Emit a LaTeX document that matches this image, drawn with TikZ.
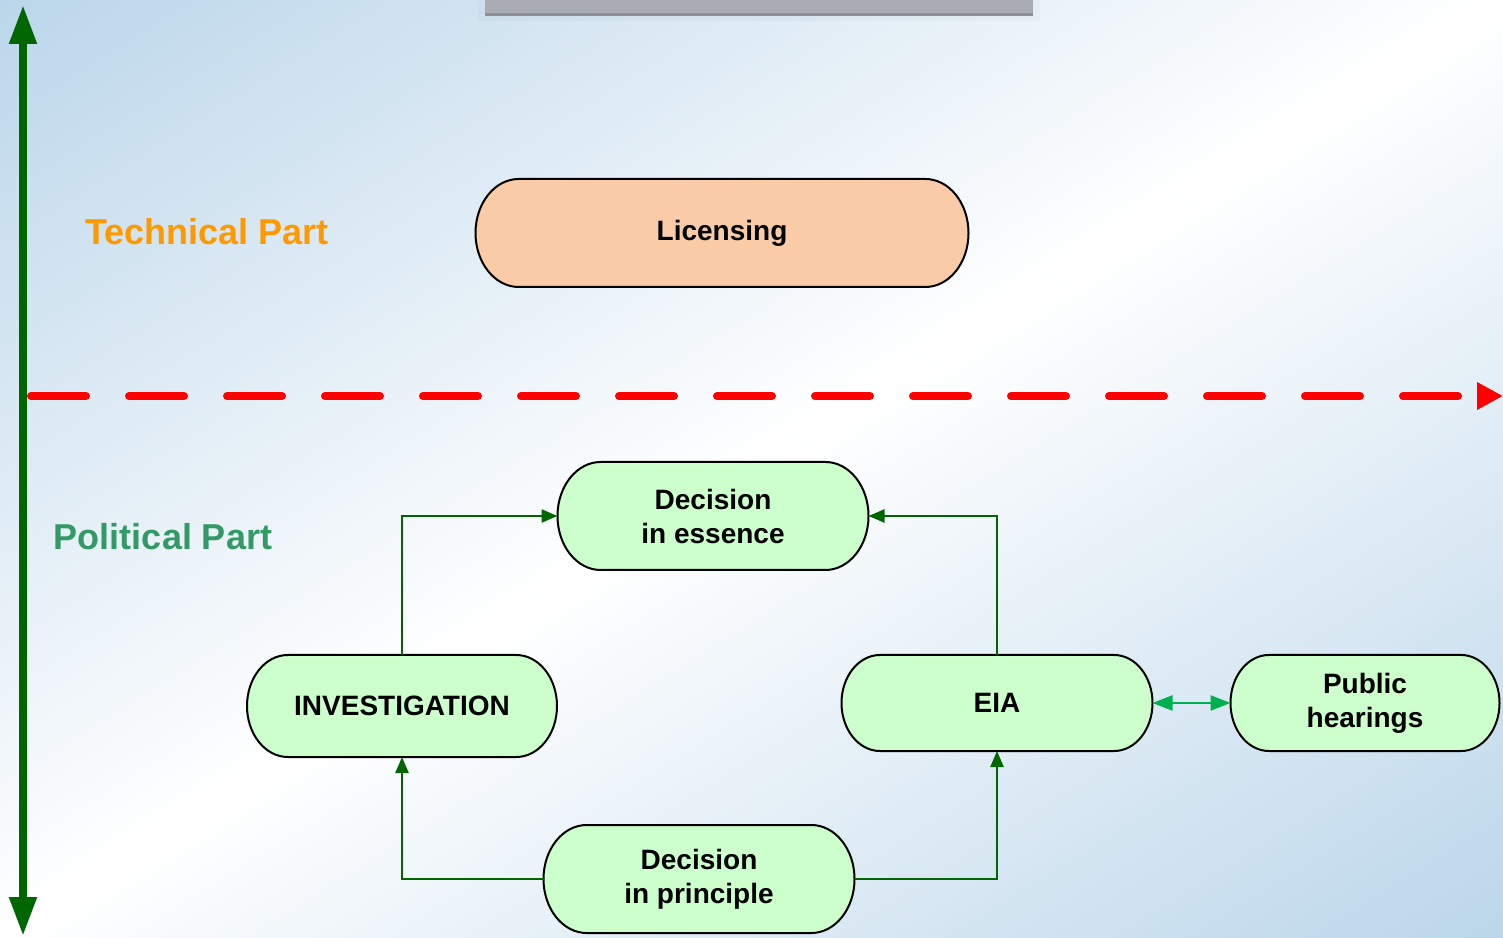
\documentclass[tikz,border=0pt]{standalone}
\usepackage{fontspec}
\setmainfont{Liberation Sans}
\usetikzlibrary{arrows.meta}
\definecolor{bgblue}{HTML}{BBD6EA}
\definecolor{pillgreen}{HTML}{CCFFCC}
\definecolor{pillorange}{HTML}{F9CBA7}
\definecolor{darkgr}{HTML}{006600}
\definecolor{brightgr}{HTML}{00B050}
\definecolor{techorange}{HTML}{FF9900}
\definecolor{polgreen}{HTML}{339966}
\definecolor{barcol}{HTML}{A9ACB3}
\definecolor{baredge}{HTML}{8C8F96}
\tikzset{
  pillborder/.style={draw=black, line width=1pt},
  pilltext/.style={shape=rectangle, inner sep=0pt, outer sep=0pt, align=center,
    font=\fontsize{14}{17}\selectfont\bfseries},
  conn/.style={draw=darkgr, line width=1.2pt, -{Triangle[length=8pt,width=6.5pt]}},
  twoway/.style={draw=brightgr, line width=1.2pt,
    {Triangle[length=10pt,width=7.5pt]}-{Triangle[length=10pt,width=7.5pt]}},
  axisarrow/.style={draw=darkgr, line width=4pt,
    {Triangle[length=19.5pt,width=13pt]}-{Triangle[length=19.5pt,width=13pt]}},
  divider/.style={draw=red, line width=4pt, line cap=round,
    dash pattern=on 27.5pt off 21.5pt, -{Triangle[length=13pt,width=13pt]}},
  parttext/.style={font=\fontsize{18}{21}\selectfont\bfseries, inner sep=0pt},
}
\newcommand\pill[7]{%
  \draw[pillborder, fill=#6] ({#2-#4/2+0.4*#5},{#3+#5/2}) -- ({#2+#4/2-0.4*#5},{#3+#5/2})
    arc[start angle=90, end angle=-90, x radius={0.2pt*#5}, y radius={0.25pt*#5}]
    -- ({#2-#4/2+0.4*#5},{#3-#5/2})
    arc[start angle=270, end angle=90, x radius={0.2pt*#5}, y radius={0.25pt*#5}] -- cycle;
  \node[pilltext, minimum width={0.5pt*#4}, minimum height={0.5pt*#5}] (#1) at (#2,#3) {#7};
}
\begin{document}
\begin{tikzpicture}[x=0.5pt, y=0.5pt]
\useasboundingbox (0,0) rectangle (1503,937);
% background: blue in the top-left and bottom-right corners, white along the other diagonal
\begin{scope}
  \clip (0,0) rectangle (1503,937);
  \fill[white] (0,0) rectangle (1503,937);
  \begin{scope}[transform canvas={shift={(751.5,468.5)}, rotate=31.94}]
    \shade[top color=bgblue, bottom color=bgblue, middle color=white]
      (-1000,-796) rectangle (1000,796);
  \end{scope}
\end{scope}
% grey bar at top
\fill[black, opacity=0.025] (478,916) rectangle (1040,937);
\fill[barcol] (485,922) rectangle (1033,937);
\draw[baredge, line width=1.5pt] (485,922.8) -- (1033,922.8);
% labels
\node[parttext, text=techorange] (tech) at (207,705) {Technical Part};
\node[parttext, text=polgreen] (pol) at (163,400) {Political Part};
% nodes
\pill{lic}{722}{704}{493}{108}{pillorange}{Licensing}
\pill{ess}{713}{421}{311}{108}{pillgreen}{Decision\\in essence}
\pill{inv}{402}{231}{310}{102}{pillgreen}{INVESTIGATION}
\pill{eia}{997}{234}{311}{96}{pillgreen}{EIA}
\pill{pub}{1365}{234}{269}{96}{pillgreen}{Public\\hearings}
\pill{pri}{699}{58}{311}{108}{pillgreen}{Decision\\in principle}
% connectors
\draw[conn] (inv.north) |- (ess.west);
\draw[conn] (eia.north) |- (ess.east);
\draw[conn] (pri.west) -| (inv.south);
\draw[conn] (pri.east) -| (eia.south);
\draw[twoway] (eia.east) -- (pub.west);
% axes
\coordinate (vbot) at (23,1);
\coordinate (vtop) at (23,932);
\draw[axisarrow] (vbot) -- (vtop);
\coordinate (hstart) at (31,541);
\coordinate (hend) at (1503,541);
\draw[divider] (hstart) -- (hend);
\end{tikzpicture}
\end{document}
